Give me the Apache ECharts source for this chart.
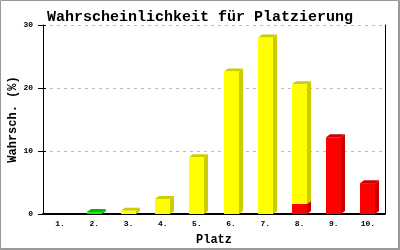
<!DOCTYPE html>
<html><head><meta charset="utf-8">
<script src="https://cdn.jsdelivr.net/npm/echarts@6/dist/echarts.min.js"></script>
<style>html,body{margin:0;padding:0;background:#fff}#c{width:400px;height:250px}</style>
</head><body><div id="c"></div>
<script>
const categories = ['1.','2.','3.','4.','5.','6.','7.','8.','9.','10.'];
const redValues    = [0, 0,   0,   0,   0,   0,    0,    1.6, 12.2, 4.9];
const greenValues  = [0, 0.3, 0,   0,   0,   0,    0,    0,   0,    0];
const yellowValues = [0, 0,   0.5, 2.4, 9.0, 22.6, 28.0, 19.0, 0,   0];
const yTicks = [0, 10, 20, 30];

const layers = [
  {name:'rot', values: redValues, front:'#ff0000', side:'#cc0000'},
  {name:'grün', values: greenValues, front:'#00ee00', side:'#00bb00'},
  {name:'gelb', values: yellowValues, front:'#ffff00', side:'#cccc00'}
];
const FONT = '"Liberation Mono","DejaVu Sans Mono",monospace';
const DX = 4, DY = 3;

function makeSeries(li){
  const layer = layers[li];
  return {
    type:'custom', name: layer.name,
    data: layer.values.map((v,i)=>[i, v]),
    renderItem: function(params, api){
      const i = api.value(0), v = api.value(1);
      if (!v) return null;
      let base = 0;
      for (let k=0;k<li;k++) base += layers[k].values[i];
      const p0 = api.coord([i, base]);
      const p1 = api.coord([i, base+v]);
      const w = api.size([1,0])[0]*0.44;
      const xl = Math.round(p0[0]-w/2), xr = Math.round(p0[0]+w/2);
      const yb = p0[1], yt = p1[1];
      return {type:'group', children:[
        {type:'polygon', shape:{points:[[xr,yb],[xr+DX,yb-DY],[xr+DX,yt-DY],[xr,yt]]}, style:{fill:layer.side}},
        {type:'polygon', shape:{points:[[xl,yt],[xr,yt],[xr+DX,yt-DY],[xl+DX,yt-DY]]}, style:{fill:layer.side}},
        {type:'rect', shape:{x:xl, y:yt, width:xr-xl, height:yb-yt}, style:{fill:layer.front}}
      ]};
    }
  };
}

const chart = echarts.init(document.getElementById('c'), null, {renderer:'canvas'});
chart.setOption({
  animation:false,
  backgroundColor:'#fff',
  title:{text:'Wahrscheinlichkeit für Platzierung', left:'center', top:5,
    textStyle:{fontFamily:FONT, fontSize:15, fontWeight:'bold', color:'#000'}},
  grid:{left:43, right:15, top:25, bottom:36, containLabel:false, outerBoundsMode:'none'},
  xAxis:{type:'category', data:categories, name:'Platz', nameLocation:'middle', nameGap:20, nameMoveOverlap:false,
    nameTextStyle:{fontFamily:FONT, fontSize:12, fontWeight:'bold', color:'#000'},
    axisLine:{lineStyle:{color:'#000', width:2}}, axisTick:{show:false},
    axisLabel:{fontFamily:FONT, fontSize:8, fontWeight:'bold', color:'#000', margin:6}},
  yAxis:[
    {type:'value', min:0, max:30, interval:10, name:'Wahrsch. (%)', nameLocation:'middle', nameGap:24, nameMoveOverlap:false,
     nameTextStyle:{fontFamily:FONT, fontSize:12, fontWeight:'bold', color:'#000'},
     axisLine:{show:true, lineStyle:{color:'#000', width:1}},
     axisTick:{show:true, length:5, lineStyle:{color:'#000'}},
     axisLabel:{fontFamily:FONT, fontSize:8, fontWeight:'bold', color:'#000', margin:10,
       formatter: v => yTicks.includes(v) ? String(v) : ''},
     splitLine:{show:true, lineStyle:{color:'#bbbbbb', type:[3,4]}}},
    {type:'value', min:0, max:30, interval:10, position:'right',
     axisLine:{show:true, lineStyle:{color:'#000', width:1}}, axisTick:{show:false},
     axisLabel:{show:false}, splitLine:{show:false}},
    {type:'value', min:0, max:30, interval:10, position:'left',
     axisLine:{show:false}, axisTick:{show:true, inside:true, length:3, lineStyle:{color:'#000'}},
     axisLabel:{show:false}, splitLine:{show:false}}
  ],
  graphic:[{type:'rect', shape:{x:0.5, y:0.5, width:398, height:248}, style:{fill:null, stroke:'#999', lineWidth:1}, silent:true},
           {type:'line', shape:{x1:0, y1:249.5, x2:400, y2:249.5}, style:{stroke:'#999', lineWidth:1}},
           {type:'line', shape:{x1:399.5, y1:0, x2:399.5, y2:250}, style:{stroke:'#999', lineWidth:1}}],
  series: layers.map((l,i)=>makeSeries(i))
});
</script></body></html>
